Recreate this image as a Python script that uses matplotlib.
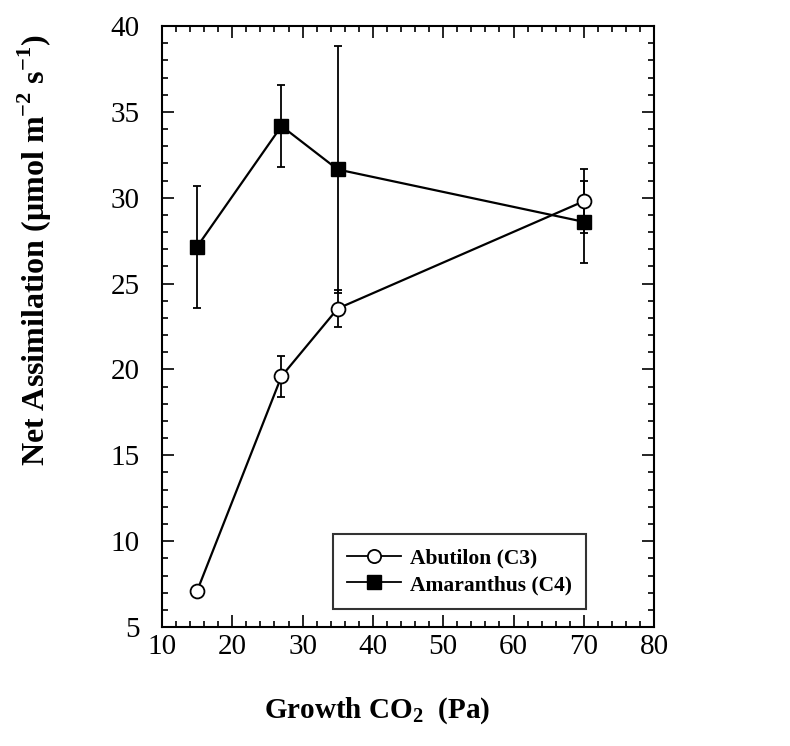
import matplotlib
matplotlib.use("Agg")
import matplotlib.pyplot as plt
from matplotlib.ticker import MultipleLocator
from matplotlib.lines import Line2D

plt.rcParams["font.family"] = ["Liberation Serif", "DejaVu Serif"]
plt.rcParams["mathtext.fontset"] = "custom"
plt.rcParams["mathtext.rm"] = "Liberation Serif"
plt.rcParams["mathtext.bf"] = "Liberation Serif:bold"

co2 = [15, 27, 35, 70]

abutilon = [7.1, 19.6, 23.55, 29.8]
abutilon_err = [0.0, 1.2, 1.1, 1.87]

amaranthus = [27.15, 34.18, 31.65, 28.6]
amaranthus_err = [3.56, 2.37, 7.2, 2.37]

fig = plt.figure(figsize=(7.9, 7.46), dpi=100)
ax = fig.add_axes([0.205, 0.1595, 0.623, 0.8055])

ax.errorbar(co2, amaranthus, yerr=amaranthus_err, color="black", linewidth=1.6,
            marker="s", markersize=10, markerfacecolor="black",
            elinewidth=1.3, capsize=3, capthick=1.3, zorder=2)
ax.errorbar(co2, abutilon, yerr=abutilon_err, color="black", linewidth=1.6,
            marker="o", markersize=10, markerfacecolor="white", markeredgewidth=1.3,
            elinewidth=1.3, capsize=3, capthick=1.3, zorder=3)

ax.set_xlim(10, 80)
ax.set_ylim(5, 40)
ax.xaxis.set_major_locator(MultipleLocator(10))
ax.xaxis.set_minor_locator(MultipleLocator(2))
ax.yaxis.set_major_locator(MultipleLocator(5))
ax.yaxis.set_minor_locator(MultipleLocator(1))
ax.tick_params(which="both", direction="in", top=True, right=True, width=1.2)
ax.tick_params(which="major", length=8.5, labelsize=21)
ax.tick_params(which="minor", length=4.5)
ax.tick_params(axis="x", which="major", pad=5)
ax.tick_params(axis="y", which="major", pad=16)
for s in ax.spines.values():
    s.set_linewidth(1.5)

ax.set_xlabel(r"Growth CO$_{\mathbf{2}}$  (Pa)", fontsize=21, fontweight="bold")
ax.xaxis.set_label_coords(0.437, -0.113)
ax.set_ylabel(r"Net Assimilation (μmol m$^{\mathbf{-2}}$ s$^{\mathbf{-1}}$)",
              fontsize=23, fontweight="bold")
ax.yaxis.set_label_coords(-0.22, 0.627)

# legende sin barras de error
handles = [
    Line2D([], [], color="black", linewidth=1.3, marker="o", markersize=9.5,
           markerfacecolor="white", markeredgewidth=1.3),
    Line2D([], [], color="black", linewidth=1.3, marker="s", markersize=9.5,
           markerfacecolor="black"),
]
labels = ["Abutilon (C3)", "Amaranthus (C4)"]
leg = ax.legend(handles, labels, loc="lower left", bbox_to_anchor=(0.348, 0.03),
                frameon=True, fancybox=False, edgecolor="black",
                prop={"weight": "bold", "size": 15.5}, handlelength=2.5,
                borderpad=0.65, labelspacing=0.3, handletextpad=0.4, borderaxespad=0)
leg.get_frame().set_linewidth(1.5)

fig.savefig("out.png", dpi=100)
